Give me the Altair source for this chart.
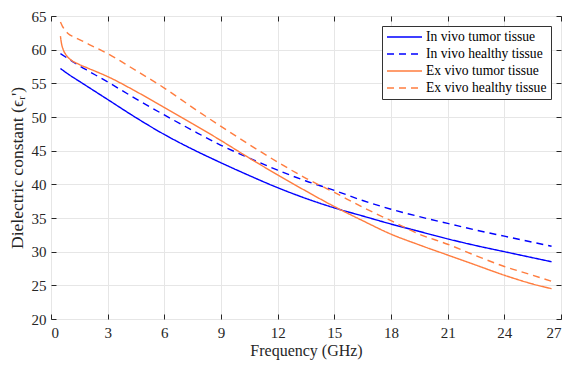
import altair as alt
import pandas as pd

series_names = [
    "In vivo tumor tissue",
    "In vivo healthy tissue",
    "Ex vivo tumor tissue",
    "Ex vivo healthy tissue",
]

freq_common = [0.5, 1, 1.5, 2, 3, 4.5, 6, 7.5, 9, 10.5, 12, 13.5, 15, 16.5,
               18, 19.5, 21, 22.5, 24, 25.5, 26.5]
in_vivo_tumor = [57.2, 56.2, 55.3, 54.4, 52.6, 49.9, 47.4, 45.2, 43.2, 41.3,
                 39.5, 37.9, 36.5, 35.3, 34.1, 33.0, 31.9, 30.9, 30.0, 29.1, 28.5]
in_vivo_healthy = [59.4, 58.5, 57.6, 56.8, 55.2, 52.7, 50.3, 48.0, 45.8, 43.9,
                   42.1, 40.5, 39.1, 37.6, 36.3, 35.2, 34.2, 33.2, 32.3, 31.4, 30.8]

freq_ex_tumor = [0.5, 0.55, 0.65, 0.8, 1.0, 1.5, 2, 3, 4.5, 6, 7.5, 9, 10.5, 12,
                 13.5, 15, 16.5, 18, 19.5, 21, 22.5, 24, 25.5, 26.5]
ex_vivo_tumor = [62.0, 61.0, 60.0, 59.2, 58.6, 57.8, 57.2, 56.0, 53.8, 51.4,
                 49.0, 46.5, 43.9, 41.4, 39.0, 36.7, 34.6, 32.6, 31.0, 29.5,
                 28.0, 26.5, 25.2, 24.5]

freq_ex_healthy = [0.5, 0.6, 0.75, 0.9, 1.2, 1.5, 2, 3, 4.5, 6, 7.5, 9, 10.5, 12,
                   13.5, 15, 16.5, 18, 19.5, 21, 22.5, 24, 25.5, 26.5]
ex_vivo_healthy = [64.1, 63.5, 62.9, 62.4, 61.9, 61.5, 60.8, 59.4, 56.9, 54.3,
                   51.4, 48.6, 45.9, 43.3, 40.9, 38.8, 36.6, 34.6, 32.6, 31.1,
                   29.4, 27.8, 26.5, 25.6]

x_ticks = [0, 3, 6, 9, 12, 15, 18, 21, 24, 27]
y_ticks = [20, 25, 30, 35, 40, 45, 50, 55, 60, 65]

colors = ["#0000ff", "#0000ff", "#ff7d3f", "#ff7d3f"]
dashes = [[1, 0], [7, 5], [1, 0], [7, 5]]

rows = []
for name, xs, ys in [
    (series_names[0], freq_common, in_vivo_tumor),
    (series_names[1], freq_common, in_vivo_healthy),
    (series_names[2], freq_ex_tumor, ex_vivo_tumor),
    (series_names[3], freq_ex_healthy, ex_vivo_healthy),
]:
    for x, y in zip(xs, ys):
        rows.append({"series": name, "freq": x, "eps": y})
df = pd.DataFrame(rows)

FONT = "Liberation Serif"
TXT = "#262626"

xscale = alt.Scale(domain=[0, 27], nice=False, zero=False)
yscale = alt.Scale(domain=[20, 65], nice=False, zero=False)

legend = alt.Legend(
    title=None, orient="top-right", offset=10, symbolType="stroke",
    symbolSize=1225, symbolStrokeWidth=1.4, clipHeight=14, rowPadding=3,
    labelFont=FONT, labelFontSize=13.6, labelColor="#000000", labelOffset=3,
    fillColor="#ffffff", strokeColor="#333333", padding=4,
)

lines = alt.Chart(df).mark_line(strokeWidth=1.4, interpolate="monotone").encode(
    x=alt.X("freq:Q", scale=xscale, axis=alt.Axis(
        orient="bottom", values=x_ticks, title="Frequency (GHz)", grid=True,
        domain=False, ticks=False, tickSize=0, labelPadding=6, titlePadding=2,
        labelFontSize=15, titleFontSize=16, labelFont=FONT, titleFont=FONT,
        labelColor=TXT, titleColor=TXT, titleFontWeight="normal",
        gridColor="#e6e6e6")),
    y=alt.Y("eps:Q", scale=yscale, axis=alt.Axis(
        orient="left", values=y_ticks, title="Dielectric constant (ϵᵣ')", grid=True,
        domain=False, ticks=False, tickSize=0, labelPadding=5, titlePadding=5,
        labelFontSize=15, titleFontSize=17.5, labelFont=FONT, titleFont=FONT,
        labelColor=TXT, titleColor=TXT, titleFontWeight="normal",
        gridColor="#e6e6e6")),
    color=alt.Color("series:N", scale=alt.Scale(domain=series_names, range=colors),
                    legend=legend),
    strokeDash=alt.StrokeDash("series:N", scale=alt.Scale(domain=series_names, range=dashes),
                              legend=legend),
)

def tick_layer(xo, yo):
    return alt.Chart(df).mark_point(opacity=0, size=1).encode(
        x=alt.X("freq:Q", scale=xscale, axis=alt.Axis(
            orient=xo, values=x_ticks, offset=-5, tickSize=5, labels=False,
            domain=False, grid=False, title=None, tickColor=TXT, zindex=1)),
        y=alt.Y("eps:Q", scale=yscale, axis=alt.Axis(
            orient=yo, values=y_ticks, offset=-5, tickSize=5, labels=False,
            domain=False, grid=False, title=None, tickColor=TXT, zindex=1)),
    )

chart = alt.layer(lines, tick_layer("bottom", "left"), tick_layer("top", "right")).resolve_axis(
    x="independent", y="independent"
).properties(
    width=510, height=303, autosize="none",
    padding={"left": 43, "top": 8, "right": 2, "bottom": 43},
).configure_view(stroke=TXT, strokeWidth=1)

chart.save("out.html", embed_options={"renderer": "svg", "actions": False})
